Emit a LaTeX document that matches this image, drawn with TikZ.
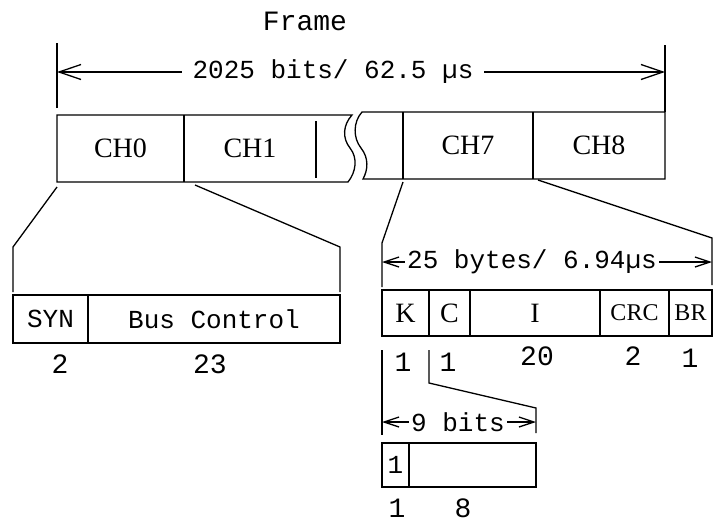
\documentclass[tikz,border=0pt]{standalone}
\usepackage{fontspec}
\setmainfont{Liberation Serif}
\setmonofont{Liberation Mono}
\usetikzlibrary{positioning, arrows.meta}
\newcommand{\typefont}{\ttfamily\fontsize{26}{30}\selectfont}
\newcommand{\numfont}{\ttfamily\fontsize{28}{30}\selectfont}
\newcommand{\romfont}{\rmfamily\fontsize{28}{30}\selectfont}
\newcommand{\crcfont}{\rmfamily\fontsize{24}{26}\selectfont}

\tikzset{
  chfield/.style={anchor=north west, minimum height=67pt, inner sep=0pt, outer sep=0pt, font=\romfont},
  field/.style={draw, anchor=north west, minimum height=48pt, inner sep=0pt, outer sep=0pt, font=\typefont},
  bytefield/.style={field, minimum height=46pt, font=\romfont},
  dimtext/.style={font=\typefont, inner xsep=10pt},
  numtext/.style={font=\numfont},
  bigtip/.style={-{Straight Barb[length=22pt,width=15pt]}},
  smalltip/.style={-{Straight Barb[length=15pt,width=10pt]}}
}

\begin{document}
\begin{tikzpicture}[x=1pt, y=-1pt, line width=1.3pt]
  \useasboundingbox (0,0) rectangle (715,522);
  % frame with its channels
  \node[font=\numfont] (title) at (305,21) {Frame};
  \node[chfield, minimum width=127pt] (ch0) at (57,115) {CH0};
  \node[chfield, minimum width=132pt, right=0pt of ch0] (ch1) {CH1};
  \node[chfield, minimum width=130pt] (ch7) at (403,112) {CH7};
  \node[chfield, minimum width=132pt, right=0pt of ch7] (ch8) {CH8};
  \draw (ch0.north west) -- (352,115) .. controls (343,125) and (342,138) .. (350,148)
        .. controls (358,158) and (356,172) .. (348,182) -- (ch0.south west) -- cycle;
  \draw (ch0.north east) -- (ch0.south east);
  \draw ([yshift=-6pt]ch1.north east) -- ([yshift=4pt]ch1.south east);
  \draw (ch8.north east) -- (ch8.south east) -- (363,179) .. controls (368,170) and (369,158) .. (361,148)
        .. controls (353,138) and (353,122) .. (362,112) -- cycle;
  \draw (ch7.north west) -- (ch7.south west);
  \draw (ch7.north east) -- (ch7.south east);
  % frame length
  \draw ([yshift=7pt]ch0.north west) -- ++(0,-65);
  \draw (ch8.north east) -- ++(0,-67);
  \node[dimtext] (framelen) at (333,72) {2025 bits/ 62.5 µs};
  \draw[bigtip] (framelen.west) -- (framelen.west -| ch0.west);
  \draw[bigtip] (framelen.east) -- (framelen.east -| ch8.east);

  % channel 0
  \node[field, minimum width=75pt] (syn) at (13,295) {SYN};
  \node[field, minimum width=252pt, right=0pt of syn] (bus) {Bus Control};
  \draw ([yshift=-5pt]ch0.south west) -- (13,247) -- ([yshift=3pt]syn.north west);
  \draw ([shift={(11pt,-3pt)}]ch0.south east) -- (340,247) -- ([yshift=3pt]bus.north east);
  \node[numtext] (nsyn) at (60,364) {2};
  \node[numtext] (nbus) at (210,364) {23};

  % channel bytes
  \node[bytefield, minimum width=47pt] (kf) at (382,290) {K};
  \node[bytefield, minimum width=41pt, right=0pt of kf] (cf) {C};
  \node[bytefield, minimum width=130pt, right=0pt of cf] (infof) {I};
  \node[bytefield, minimum width=69pt, right=0pt of infof, font=\crcfont] (crcf) {CRC};
  \node[bytefield, minimum width=43pt, right=0pt of crcf, font=\crcfont] (brf) {BR};
  \draw ([yshift=-3pt]ch7.south west) -- (382,243) -- ([yshift=3pt]kf.north west);
  \draw ([shift={(5pt,-1pt)}]ch8.south west) -- (712,238) -- ([yshift=5pt]brf.north east);
  \node[dimtext, inner xsep=2pt] (bytelen) at (532,262) {25 bytes/ 6.94µs};
  \draw[smalltip] (bytelen.west) -- (bytelen.west -| kf.west);
  \draw[smalltip] (bytelen.east) -- (bytelen.east -| brf.east);
  \node[numtext] (nk) at (403,362) {1};
  \node[numtext] (nc) at (448,362) {1};
  \node[numtext] (ni) at (537,356) {20};
  \node[numtext] (ncrc) at (633,356) {2};
  \node[numtext] (nbr) at (690,358) {1};

  % K byte bits
  \node[field, minimum width=27pt, minimum height=44pt] (bit1) at (382,443) {1};
  \node[field, minimum width=127pt, minimum height=44pt, right=0pt of bit1] (bit8) {};
  \draw ([yshift=-14pt]kf.south west) -- ([yshift=8pt]bit1.north west);
  \draw ([yshift=-14pt]kf.south east) -- ++(0,33) -- (536,408) -- ([yshift=10pt]bit8.north east);
  \node[dimtext, inner xsep=2pt] (bitlen) at (458,422) {9 bits};
  \draw[smalltip] (bitlen.west) -- (bitlen.west -| bit1.west);
  \draw[smalltip] (bitlen.east) -- (bitlen.east -| bit8.east);
  \node[numtext] (nb1) at (397,508) {1};
  \node[numtext] (nb8) at (463,508) {8};
\end{tikzpicture}
\end{document}
